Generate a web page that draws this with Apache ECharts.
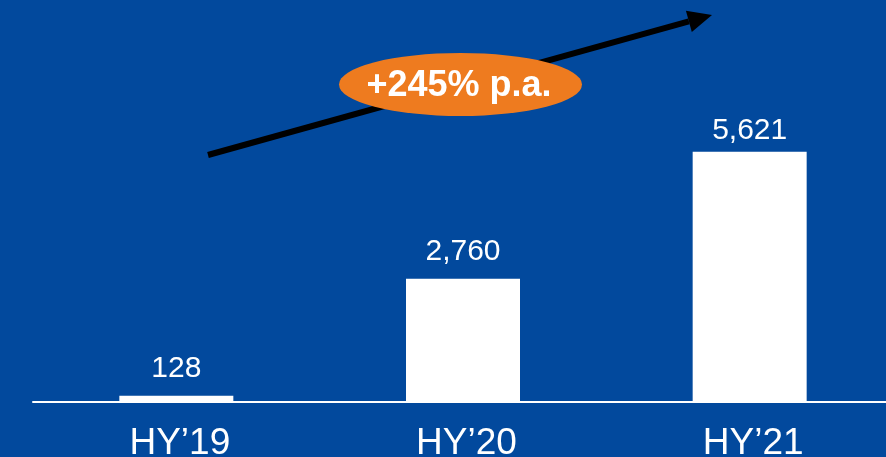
<!DOCTYPE html>
<html>
<head>
<meta charset="utf-8">
<script src="https://cdn.jsdelivr.net/npm/echarts@6/dist/echarts.min.js"></script>
<style>
html,body{margin:0;padding:0;background:#02499D;overflow:hidden;}
#chart{width:900px;height:457px;}
</style>
</head>
<body>
<div id="chart"></div>
<script>
const categories = ['HY\u201919', 'HY\u201920', 'HY\u201921'];
const values = [128, 2760, 5621];
const valueLabels = ['128', '2,760', '5,621'];
const growthLabel = '+245% p.a.';

const font = '"Liberation Sans", Arial, sans-serif';
const chart = echarts.init(document.getElementById('chart'));

const tipX = 712, tipY = 15, tailX = 208, tailY = 155;
const dx = tipX - tailX, dy = tipY - tailY, len = Math.hypot(dx, dy);
const ux = dx / len, uy = dy / len, nx = -uy, ny = ux;
const headLen = 24, headHalf = 11;
const bx = tipX - headLen * ux, by = tipY - headLen * uy;

chart.setOption({
  backgroundColor: '#02499D',
  animation: false,
  grid: { left: 33, top: 1.5, width: 860, height: 400, containLabel: false, outerBoundsMode: 'none' },
  xAxis: {
    type: 'category',
    data: categories,
    axisLine: { lineStyle: { color: '#ffffff', width: 2 } },
    axisTick: { show: false },
    axisLabel: { color: '#ffffff', fontSize: 37, fontFamily: font, margin: 24, padding: [0, 0, 0, 7] }
  },
  yAxis: { type: 'value', min: 0, max: 9000, show: false, splitLine: { show: false } },
  series: [{
    type: 'bar',
    barWidth: 114,
    itemStyle: { color: '#ffffff' },
    data: values.map((v, i) => ({
      value: v,
      label: { distance: i === 2 ? 6 : 12 }
    })),
    label: {
      show: true,
      position: 'top',
      color: '#ffffff',
      fontSize: 30,
      fontFamily: font,
      formatter: p => valueLabels[p.dataIndex]
    }
  }],
  graphic: [
    {
      type: 'line',
      shape: { x1: tailX, y1: tailY, x2: bx, y2: by },
      style: { stroke: '#000000', lineWidth: 6 },
      z: 10
    },
    {
      type: 'polygon',
      shape: { points: [[tipX, tipY], [bx + headHalf * nx, by + headHalf * ny], [bx - headHalf * nx, by - headHalf * ny]] },
      style: { fill: '#000000' },
      z: 10
    },
    {
      type: 'circle',
      x: 460.5, y: 84.5,
      scaleX: 121.5 / 31.5,
      shape: { cx: 0, cy: 0, r: 31.5 },
      style: { fill: '#EE7B1F' },
      z: 11
    },
    {
      type: 'text',
      x: 459, y: 86,
      style: {
        text: growthLabel,
        fill: '#ffffff',
        font: 'bold 36px ' + font,
        textAlign: 'center',
        textVerticalAlign: 'middle'
      },
      z: 12
    }
  ]
});
</script>
</body>
</html>
